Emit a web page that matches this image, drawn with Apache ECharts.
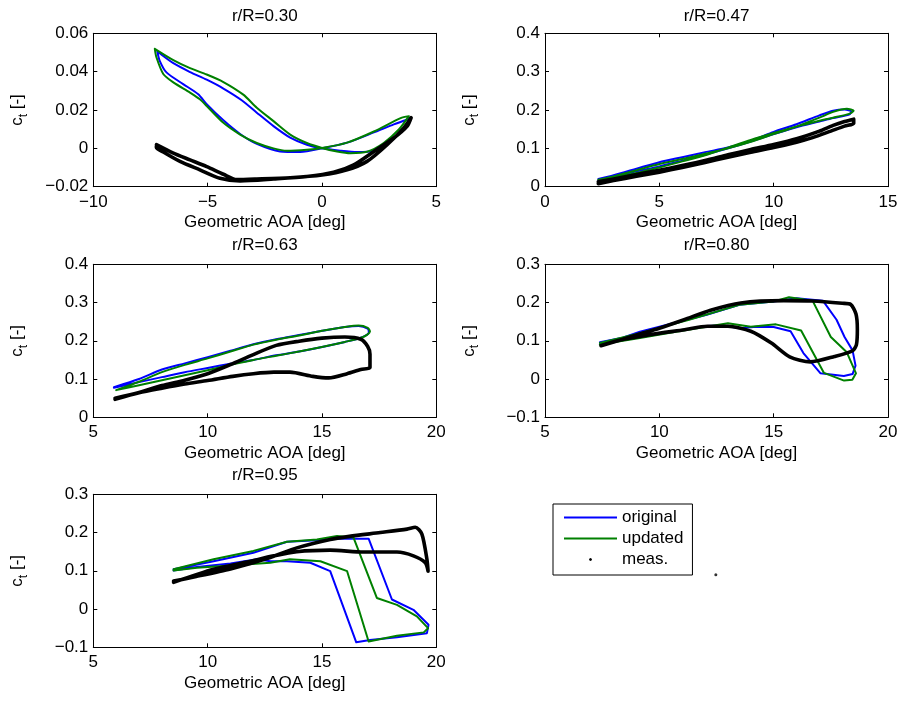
<!DOCTYPE html>
<html>
<head>
<meta charset="utf-8">
<title>Thrust coefficient loops</title>
<script src="https://cdn.jsdelivr.net/npm/echarts@6/dist/echarts.min.js"></script>
<style>
  html, body { margin: 0; padding: 0; background: #fff; }
  #chart { width: 901px; height: 701px; }
</style>
</head>
<body>
<div id="chart"></div>
<script>
// Radial stations shown, one panel each
const stations = ['r/R=0.30', 'r/R=0.47', 'r/R=0.63', 'r/R=0.80', 'r/R=0.95'];
const seriesNames = ['original', 'updated', 'meas.'];
const xLabel = 'Geometric AOA [deg]';
const yLabel = '{c|c}{t|t}{c| [-]}';

// Axis ranges and tick steps per panel
const xRanges = [[-10, 5], [0, 15], [5, 20], [5, 20], [5, 20]];
const yRanges = [[-0.02, 0.06], [0, 0.4], [0, 0.4], [-0.1, 0.3], [-0.1, 0.3]];
const xSteps = [5, 5, 5, 5, 5];
const ySteps = [0.02, 0.1, 0.1, 0.1, 0.1];

// r/R = 0.30 : [geometric AOA, c_t]
const orig30 = [[-7.2,0.0505],[-6.5,0.0444],[-5.77,0.0398],[-5.04,0.0358],[-4.31,0.0312],[-3.51,0.0251],[-2.85,0.0186],[-2.12,0.0116],[-1.39,0.0056],[-0.66,0.0019],[0,0.0],[0.8,-0.0012],[1.54,-0.0019],[2.27,-0.0013],[3.0,0.0037],[3.58,0.0107],[3.85,0.0156],[3.14,0.0125],[2.27,0.0083],[1.1,0.0030],[0,0.0],[-0.95,-0.0019],[-1.83,-0.0016],[-2.85,0.0023],[-3.58,0.0075],[-4.31,0.0146],[-5.04,0.0230],[-5.41,0.0282],[-6.07,0.0335],[-6.8,0.0396],[-7.1,0.0458],[-7.2,0.0505]];
const upd30 = [[-7.31,0.0519],[-6.5,0.0460],[-5.77,0.0418],[-5.04,0.0385],[-4.31,0.0346],[-3.44,0.0280],[-2.85,0.0212],[-2.12,0.0142],[-1.39,0.0072],[-0.66,0.0028],[0,0.0002],[0.66,-0.0016],[1.24,-0.0025],[1.97,-0.0018],[2.7,0.0028],[3.36,0.0098],[3.8,0.0168],[3.44,0.0158],[2.27,0.0088],[1.1,0.0030],[0,0.0002],[-0.66,-0.0007],[-1.54,-0.0012],[-2.12,0.0],[-2.85,0.0028],[-3.58,0.0072],[-4.31,0.0133],[-5.04,0.0221],[-5.34,0.0256],[-5.77,0.0291],[-6.5,0.0344],[-6.94,0.0388],[-7.24,0.0475],[-7.31,0.0519]];
const meas30 = [[-7.24,0.0019],[-6.5,-0.0025],[-5.77,-0.0060],[-5.04,-0.0095],[-4.31,-0.0135],[-3.73,-0.0163],[-2.85,-0.0160],[-1.39,-0.0153],[0,-0.0139],[1.1,-0.0112],[1.97,-0.0068],[2.85,0.0019],[3.58,0.0107],[3.9,0.0160],[3.73,0.0116],[3.14,0.0054],[2.27,-0.0016],[1.39,-0.0086],[0.51,-0.0125],[-0.66,-0.0147],[-2.12,-0.0160],[-3.58,-0.0170],[-4.46,-0.0156],[-5.34,-0.0112],[-6.21,-0.0068],[-6.94,-0.0019],[-7.24,0.0005],[-7.24,0.0019]];

// r/R = 0.47
const orig47 = [[2.33,0.020],[3,0.030],[4,0.047],[5,0.064],[6,0.077],[7,0.090],[8,0.102],[9,0.120],[10,0.143],[11,0.163],[12,0.186],[12.6,0.198],[13.1,0.201],[13.4,0.196],[13.3,0.188],[12.6,0.179],[12,0.170],[11,0.155],[10,0.137],[9,0.118],[8,0.100],[7,0.083],[6,0.068],[5,0.053],[4,0.040],[3,0.026],[2.33,0.016]];
const upd47 = [[2.33,0.018],[3,0.027],[4,0.043],[5,0.059],[6,0.072],[7,0.086],[8,0.100],[9,0.117],[10,0.137],[11,0.157],[12,0.180],[12.6,0.195],[13.2,0.203],[13.5,0.198],[13.3,0.190],[12.6,0.180],[12,0.172],[11,0.157],[10,0.140],[9,0.122],[8,0.102],[7,0.082],[6,0.066],[5,0.050],[4,0.036],[3,0.022],[2.33,0.012]];
const meas47 = [[2.33,0.013],[3,0.020],[4,0.032],[5,0.043],[6,0.055],[7,0.068],[8,0.083],[9,0.097],[10,0.110],[11,0.125],[12,0.145],[12.6,0.160],[13.1,0.170],[13.5,0.176],[13.5,0.165],[13.1,0.158],[12.5,0.145],[11.7,0.128],[11,0.116],[10,0.102],[9,0.090],[8,0.077],[7,0.063],[6,0.050],[5,0.038],[4,0.027],[3,0.016],[2.33,0.008]];

// r/R = 0.63
const orig63 = [[5.9,0.079],[7,0.100],[8,0.125],[9,0.141],[10,0.157],[11,0.174],[12,0.191],[13,0.204],[14,0.215],[15,0.226],[16,0.236],[16.6,0.239],[17.0,0.232],[17.05,0.222],[16.7,0.208],[16,0.197],[15,0.184],[14,0.172],[13,0.162],[12,0.150],[11,0.140],[10,0.129],[9,0.118],[8,0.105],[7,0.092],[5.9,0.077]];
const upd63 = [[6.0,0.071],[7,0.093],[8,0.118],[9,0.137],[10,0.154],[11,0.172],[12,0.190],[13,0.203],[14,0.214],[15,0.226],[16,0.236],[16.6,0.240],[17.0,0.234],[17.1,0.224],[16.8,0.210],[16,0.197],[15,0.184],[14,0.172],[13,0.161],[12,0.150],[11,0.137],[10,0.123],[9,0.110],[8,0.097],[7,0.084],[6.0,0.071]];
const meas63 = [[5.95,0.050],[7,0.065],[8,0.083],[9,0.097],[10,0.114],[11,0.138],[12,0.164],[13,0.188],[14,0.199],[15,0.207],[16,0.210],[16.7,0.204],[17.0,0.185],[17.1,0.165],[17.1,0.130],[16.7,0.125],[16.1,0.114],[15.3,0.103],[14.6,0.107],[13.6,0.118],[12.9,0.118],[12,0.114],[11.1,0.107],[10,0.096],[9,0.087],[8,0.076],[7,0.064],[5.95,0.047]];

// r/R = 0.80
const orig80 = [[7.4,0.096],[8.4,0.108],[9.15,0.124],[10.6,0.146],[12.07,0.168],[13.5,0.194],[15.0,0.203],[16.0,0.211],[17.15,0.205],[17.75,0.155],[18.1,0.110],[18.45,0.075],[18.58,0.035],[18.45,0.013],[18.07,0.008],[17.05,0.015],[16.3,0.068],[15.74,0.125],[15.0,0.136],[14.25,0.137],[13.5,0.133],[12.8,0.140],[12.07,0.139],[10.6,0.124],[9.15,0.111],[7.4,0.091]];
const upd80 = [[7.4,0.094],[9.15,0.120],[11.3,0.155],[13.5,0.194],[15.0,0.203],[15.67,0.214],[16.7,0.205],[17.5,0.110],[18.2,0.070],[18.6,0.015],[18.44,-0.002],[18.08,-0.004],[17.2,0.016],[16.2,0.127],[15.1,0.143],[14.0,0.137],[13.0,0.146],[12.07,0.137],[10.6,0.122],[9.15,0.107],[7.4,0.090]];
const meas80 = [[7.45,0.087],[8.4,0.104],[9.04,0.116],[10,0.133],[11.08,0.155],[12.24,0.180],[13.56,0.199],[15.45,0.205],[16.7,0.204],[18.0,0.198],[18.37,0.195],[18.6,0.170],[18.66,0.130],[18.62,0.090],[18.45,0.074],[17.66,0.059],[16.6,0.045],[15.7,0.058],[14.9,0.094],[14.0,0.125],[13.0,0.138],[12.1,0.138],[11.1,0.129],[9.6,0.116],[8.2,0.101],[7.45,0.088]];

// r/R = 0.95
const orig95 = [[8.51,0.104],[10.26,0.125],[12.0,0.147],[13.47,0.176],[14.78,0.180],[15.66,0.184],[17.04,0.184],[18.06,0.025],[19.0,-0.002],[19.66,-0.041],[19.59,-0.063],[18.28,-0.074],[17.1,-0.081],[16.5,-0.087],[15.36,0.099],[14.49,0.121],[13.47,0.125],[12.74,0.125],[12.16,0.130],[11.0,0.119],[9.53,0.110],[8.51,0.101]];
const upd95 = [[8.51,0.104],[10.26,0.130],[12.0,0.152],[13.47,0.176],[14.78,0.182],[15.66,0.191],[16.38,0.187],[17.4,0.029],[18.28,0.011],[19.15,-0.019],[19.64,-0.050],[19.45,-0.061],[18.28,-0.070],[17.04,-0.085],[16.1,0.099],[14.93,0.125],[13.6,0.130],[12.74,0.121],[11.0,0.114],[9.53,0.108],[8.51,0.101]];
const meas95 = [[8.51,0.073],[9.5,0.085],[11.0,0.105],[12.74,0.135],[13.9,0.160],[15.36,0.182],[16.2,0.190],[17.55,0.200],[18.72,0.209],[19.08,0.214],[19.37,0.196],[19.59,0.130],[19.64,0.099],[19.52,0.121],[19.0,0.139],[18.28,0.149],[16.82,0.149],[15.36,0.154],[13.9,0.150],[12.89,0.139],[11.72,0.123],[10.26,0.104],[8.51,0.070]];

// Lone marker left in the spare sixth axes
const sparePoint = [[0.498, 0.475]];

const panelData = [
  [orig30, upd30, meas30],
  [orig47, upd47, meas47],
  [orig63, upd63, meas63],
  [orig80, upd80, meas80],
  [orig95, upd95, meas95]
];

// ---- layout & styling ----
const FONT = '"Liberation Sans", Arial, Helvetica, sans-serif';
const cells = [
  { left: 93.3, top: 33.3, width: 343, height: 153.4 },
  { left: 545,  top: 33.3, width: 343, height: 153.4 },
  { left: 93.3, top: 264.3, width: 343, height: 153 },
  { left: 545,  top: 264.3, width: 343, height: 153 },
  { left: 93.3, top: 494.3, width: 343, height: 153 }
];
const spareCell = { left: 545, top: 494.3, width: 343, height: 153 };
const colors = ['#0000ff', '#008000', '#000000'];
const widths = [2, 2, 3.6];

function fmt(v) {
  const r = Math.round(v * 1000) / 1000;
  return String(r).replace('-', '\u2212');
}

const grids = cells.map(c => Object.assign({ containLabel: false, outerBoundsMode: 'none', show: false }, c));
grids.push(Object.assign({ containLabel: false, outerBoundsMode: 'none', show: false }, spareCell));

const lineAxis = { show: true, onZero: false, lineStyle: { color: '#000', width: 1 } };
const tickIn = { show: true, inside: true, length: 4, lineStyle: { color: '#000', width: 1 } };
const labelStyle = { fontSize: 17, color: '#000', fontFamily: FONT };

const xAxes = [];
const yAxes = [];
cells.forEach((c, i) => {
  xAxes.push({
    type: 'value', gridIndex: i, position: 'bottom',
    min: xRanges[i][0], max: xRanges[i][1], interval: xSteps[i],
    name: xLabel, nameLocation: 'middle', nameGap: 27.5, nameMoveOverlap: false,
    nameTextStyle: labelStyle,
    axisLine: lineAxis, axisTick: tickIn,
    axisLabel: Object.assign({ margin: 7, formatter: fmt, showMinLabel: true, showMaxLabel: true, hideOverlap: false }, labelStyle),
    splitLine: { show: false }
  });
  yAxes.push({
    type: 'value', gridIndex: i, position: 'left',
    min: yRanges[i][0], max: yRanges[i][1], interval: ySteps[i],
    name: yLabel, nameLocation: 'middle', nameRotate: 90, nameGap: 64, nameMoveOverlap: false,
    nameTextStyle: {
      color: '#000', fontFamily: FONT, fontSize: 17,
      rich: {
        c: { fontSize: 17, fontFamily: FONT, color: '#000', lineHeight: 24 },
        t: { fontSize: 12, fontFamily: FONT, color: '#000', lineHeight: 13, verticalAlign: 'bottom' }
      }
    },
    axisLine: lineAxis, axisTick: tickIn,
    axisLabel: Object.assign({ margin: 5, formatter: fmt, showMinLabel: true, showMaxLabel: true, hideOverlap: false }, labelStyle),
    splitLine: { show: false }
  });
});
// Mirrored box axes (top / right) carrying inward ticks only
cells.forEach((c, i) => {
  xAxes.push({
    type: 'value', gridIndex: i, position: 'top',
    min: xRanges[i][0], max: xRanges[i][1], interval: xSteps[i],
    axisLine: lineAxis, axisTick: tickIn, axisLabel: { show: false }, splitLine: { show: false }
  });
  yAxes.push({
    type: 'value', gridIndex: i, position: 'right',
    min: yRanges[i][0], max: yRanges[i][1], interval: ySteps[i],
    axisLine: lineAxis, axisTick: tickIn, axisLabel: { show: false }, splitLine: { show: false }
  });
});
// Hidden axes of the spare cell
const spareAxisIndex = xAxes.length;
xAxes.push({ type: 'value', gridIndex: 5, min: 0, max: 1, show: false });
yAxes.push({ type: 'value', gridIndex: 5, min: 0, max: 1, show: false });

const series = [];
panelData.forEach((set, i) => {
  set.forEach((pts, k) => {
    series.push({
      name: seriesNames[k], type: 'line', xAxisIndex: i, yAxisIndex: i,
      data: pts, showSymbol: false, symbol: 'none',
      smooth: (k === 2 || i < 3) ? 0.25 : false,
      lineStyle: { color: colors[k], width: widths[k], join: 'round', cap: 'round' },
      itemStyle: { color: colors[k] },
      z: 2 + k, silent: true
    });
  });
});
series.push({
  name: 'meas.', type: 'scatter', xAxisIndex: spareAxisIndex, yAxisIndex: spareAxisIndex,
  data: sparePoint, symbol: 'circle', symbolSize: 3,
  itemStyle: { color: '#000' }, silent: true
});

const titles = stations.map((s, i) => ({
  text: s, left: cells[i].left + cells[i].width / 2, top: [8, 8, 237, 237, 467][i],
  textAlign: 'center', padding: 0,
  textStyle: { fontSize: 17, fontWeight: 'normal', color: '#000', fontFamily: FONT }
}));

const chart = echarts.init(document.getElementById('chart'), null, { renderer: 'canvas' });
chart.setOption({
  animation: false,
  backgroundColor: '#fff',
  title: titles,
  grid: grids,
  xAxis: xAxes,
  yAxis: yAxes,
  legend: {
    orient: 'vertical', left: 553, top: 504,
    padding: [5, 9, 7, 11], itemGap: 4, itemWidth: 53, itemHeight: 2,
    borderColor: '#000', borderWidth: 1, backgroundColor: '#fff',
    selectedMode: false,
    textStyle: labelStyle,
    itemStyle: { borderWidth: 0 },
    data: [
      { name: 'original', icon: 'rect', itemStyle: { color: '#0000ff', borderWidth: 0 } },
      { name: 'updated', icon: 'rect', itemStyle: { color: '#008000', borderWidth: 0 } },
      { name: 'meas.', icon: 'circle', itemStyle: { color: '#000', borderWidth: 1, borderColor: '#000' } }
    ]
  },
  series: series
});
</script>
</body>
</html>
